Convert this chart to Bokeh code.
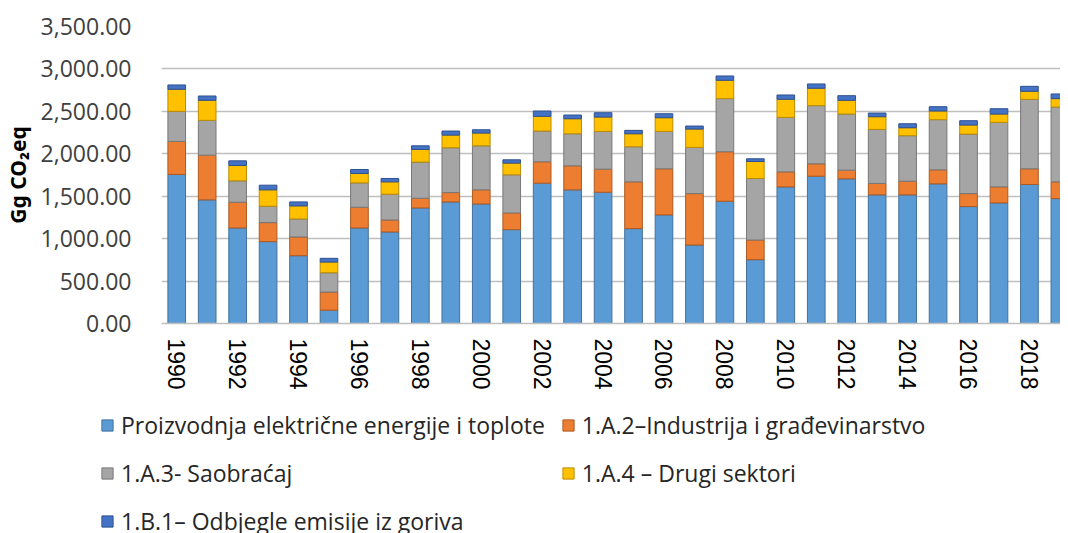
from bokeh.plotting import figure
from bokeh.layouts import column, row
from bokeh.models import ColumnDataSource, Legend, LegendItem, FixedTicker, NumeralTickFormatter, Range1d
from bokeh.embed import file_html
from bokeh.resources import INLINE

years = list(range(1990, 2020))
elec = [1756, 1457, 1126, 965, 799, 157, 1126, 1079, 1362, 1433, 1409, 1106, 1654, 1575, 1547,
        1118, 1280, 925, 1441, 752, 1610, 1736, 1705, 1516, 1516, 1646, 1378, 1421, 1638, 1472]
ind = [390, 527, 303, 224, 221, 213, 244, 141, 114, 110, 166, 197, 252, 283, 272,
       551, 543, 606, 583, 232, 177, 146, 102, 134, 161, 165, 153, 189, 185, 197]
trans = [354, 410, 252, 193, 212, 228, 287, 304, 426, 528, 519, 449, 362, 378, 445,
         414, 441, 544, 626, 725, 642, 685, 661, 637, 536, 591, 701, 760, 819, 882]
other = [260, 236, 181, 193, 154, 126, 111, 145, 149, 149, 150, 138, 173, 177, 169,
         153, 161, 216, 216, 200, 213, 205, 162, 150, 94, 102, 107, 98, 94, 99]
fug = [51, 51, 55, 55, 47, 44, 47, 40, 43, 48, 39, 39, 63, 44, 51,
       40, 47, 36, 51, 32, 51, 51, 55, 43, 47, 51, 51, 63, 59, 55]

series = ["elec", "ind", "trans", "other", "fug"]
labels = ["Proizvodnja električne energije i toplote", "1.A.2–Industrija i građevinarstvo",
          "1.A.3- Saobraćaj", "1.A.4 – Drugi sektori", "1.B.1– Odbjegle emisije iz goriva"]
colors = ["#5B9BD5", "#ED7D31", "#A5A5A5", "#FFC000", "#4472C4"]
edges = ["#41719C", "#AE5A21", "#787878", "#BC8C00", "#2F528F"]
y_ticks = [0, 500, 1000, 1500, 2000, 2500, 3000, 3500]
x_ticks = list(range(1990, 2019, 2))

src = ColumnDataSource(dict(year=years, elec=elec, ind=ind, trans=trans, other=other, fug=fug))

p = figure(width=1060, height=400, output_backend="svg", toolbar_location=None,
           x_range=Range1d(1989.5, 2019.02), y_range=Range1d(0, 3500),
           min_border_left=147, min_border_right=0, min_border_top=26, min_border_bottom=77)
p.outline_line_color = None

p.vbar_stack(series, x="year", width=0.58, source=src, fill_color=colors,
             line_color=edges, line_width=1)

p.xgrid.grid_line_color = None
p.ygrid.grid_line_color = "#BFBFBF"
p.ygrid.grid_line_width = 1.3

p.yaxis.ticker = FixedTicker(ticks=y_ticks)
p.yaxis.formatter = NumeralTickFormatter(format="0,0.00")
p.yaxis.axis_line_color = None
p.yaxis.major_tick_line_color = None
p.yaxis.minor_tick_line_color = None
p.yaxis.major_label_text_font = "Open Sans"
p.yaxis.major_label_text_font_size = "23px"
p.yaxis.major_label_text_color = "#404040"
p.yaxis.major_label_standoff = 24
p.yaxis.axis_label = "Gg CO₂eq"
p.yaxis.axis_label_text_font = "Noto Sans"
p.yaxis.axis_label_text_font_style = "bold"
p.yaxis.axis_label_text_font_size = "21px"
p.yaxis.axis_label_text_color = "#000000"
p.yaxis.axis_label_standoff = 6

p.xaxis.ticker = FixedTicker(ticks=x_ticks)
p.xaxis.axis_line_color = "#BFBFBF"
p.xaxis.axis_line_width = 1.3
p.xaxis.major_tick_line_color = None
p.xaxis.minor_tick_line_color = None
p.xaxis.major_label_orientation = "vertical"
p.xaxis.major_label_text_font = "Liberation Sans"
p.xaxis.major_label_text_font_size = "23px"
p.xaxis.major_label_text_color = "#000000"
p.xaxis.major_label_standoff = 9

# legend panel below the chart (same series, plotted out of view only to provide swatches)
lf = figure(width=1060, height=133, output_backend="svg", toolbar_location=None,
            x_range=Range1d(0, 1), y_range=Range1d(0, 1),
            x_axis_location=None, y_axis_location=None,
            min_border_left=0, min_border_right=0, min_border_top=0, min_border_bottom=0)
lf.outline_line_color = None
lf.grid.visible = False
lrs = lf.vbar_stack(series, x="year", width=0.58, source=src, fill_color=colors,
                    line_color=edges, line_width=1)

items = [LegendItem(label=lab, renderers=[r]) for lab, r in zip(labels, lrs)]
legend = Legend(items=items, ncols=2, orientation="horizontal", location=(100, -4),
                glyph_width=14, glyph_height=14, label_standoff=7,
                label_text_font="Open Sans", label_text_font_size="23px",
                label_text_color="#262626", spacing=16, padding=0, margin=0,
                border_line_color=None, background_fill_alpha=0, label_height=31)
lf.add_layout(legend, "center")

open("out.html", "w").write(file_html(column(p, row(lf), spacing=0), INLINE))
